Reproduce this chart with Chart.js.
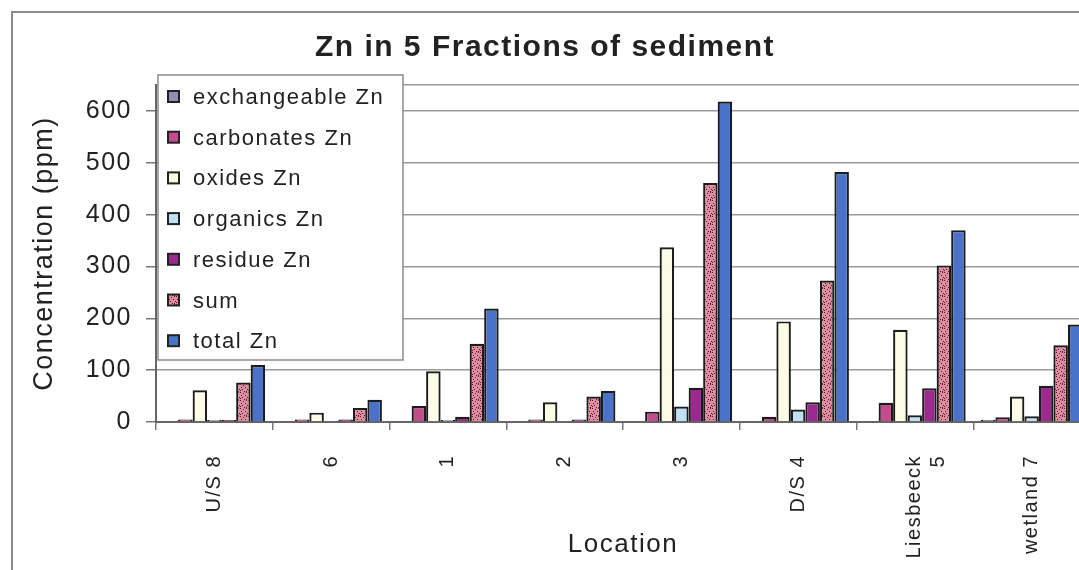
<!DOCTYPE html>
<html>
<head>
<meta charset="utf-8">
<title>Zn in 5 Fractions of sediment</title>
<script src="https://cdn.jsdelivr.net/npm/chart.js@4.4.1/dist/chart.umd.min.js"></script>
<style>
  html, body { margin: 0; padding: 0; background: #fff; overflow: hidden; }
  #wrap { width: 1079px; height: 570px; overflow: hidden; }
  #zn-chart { width: 1090px; height: 570px; }
</style>
</head>
<body>
<div id="wrap"><canvas id="zn-chart" width="1090" height="570"></canvas></div>
<script>
// sampling locations
const locations = ['U/S 8', '6', '1', '2', '3', 'D/S 4', ['Liesbeeck', '5'], 'wetland 7'];

// Zn per fraction (ppm)
const exchangeableZn = [0, 0, 0, 0, 0, 0, 0, 4];
const carbonatesZn   = [5, 5, 31, 5, 20, 10, 37, 9];
const oxidesZn       = [61, 18, 98, 38, 337, 194, 178, 49];
const organicsZn     = [4, 2, 4, 2, 30, 24, 13, 11];
const residueZn      = [4, 5, 10, 5, 66, 38, 65, 70];
const sumZn          = [76, 27, 151, 49, 461, 273, 302, 148];
const totalZn        = [110, 43, 219, 60, 618, 482, 370, 188];

const yTicks = [0, 100, 200, 300, 400, 500, 600];

// speckled pink fill for the "sum" bars
function speckle() {
    const c = document.createElement('canvas');
    c.width = 8; c.height = 8;
    const g = c.getContext('2d');
    g.fillStyle = '#e58b9f';
    g.fillRect(0, 0, 8, 8);
    g.fillStyle = '#3a2430';
    [[0,0],[3,1],[6,0],[1,3],[5,3],[2,5],[7,5],[0,6],[4,7],[6,7]].forEach(p => g.fillRect(p[0], p[1], 1, 1));
    return g.createPattern(c, 'repeat');
}

Chart.defaults.font.family = "'Liberation Sans', Arial, sans-serif";
Chart.defaults.color = '#222';

// Excel-ish text looks a bit wide, add some spacing
const spacing = {
    id: 'spacing',
    beforeUpdate(chart) { chart.ctx.letterSpacing = '1.5px'; },
    beforeDraw(chart) { chart.ctx.letterSpacing = '1.5px'; }
};

// white background and the grey chart frame
const frame = {
    id: 'frame',
    beforeDraw(chart) {
        const ctx = chart.ctx;
        ctx.save();
        ctx.fillStyle = '#fff';
        ctx.fillRect(0, 0, chart.width, chart.height);
        ctx.strokeStyle = '#8c8c8c';
        ctx.lineWidth = 2;
        ctx.beginPath();
        ctx.moveTo(12, chart.height);
        ctx.lineTo(12, 12);
        ctx.lineTo(chart.width, 12);
        ctx.stroke();
        ctx.restore();
    }
};

// legend box sitting inside the plot, top left
const boxLegend = {
    id: 'boxLegend',
    afterDatasetsDraw(chart) {
        const ctx = chart.ctx;
        const x = 158, y = 75, w = 245, h = 285;
        ctx.save();
        ctx.fillStyle = '#fff';
        ctx.fillRect(x, y, w, h);
        ctx.strokeStyle = '#8c8c8c';
        ctx.lineWidth = 1.5;
        ctx.strokeRect(x, y, w, h);
        ctx.font = "22px 'Liberation Sans', Arial, sans-serif";
        ctx.textBaseline = 'middle';
        ctx.textAlign = 'left';
        chart.data.datasets.forEach((ds, i) => {
            const cy = y + 22 + i * 40.7;
            ctx.fillStyle = ds.backgroundColor;
            ctx.fillRect(x + 10, cy - 6, 11, 11);
            ctx.strokeStyle = '#222';
            ctx.lineWidth = 2;
            ctx.strokeRect(x + 10, cy - 6, 11, 11);
            ctx.fillStyle = '#222';
            ctx.fillText(ds.label, x + 35, cy + 1);
        });
        ctx.restore();
    }
};

const series = [
    { label: 'exchangeable Zn', data: exchangeableZn, color: '#8e8fb5' },
    { label: 'carbonates Zn',   data: carbonatesZn,   color: '#c24c8c' },
    { label: 'oxides Zn',       data: oxidesZn,       color: '#fbfbe6' },
    { label: 'organics Zn',     data: organicsZn,     color: '#bfe1f3' },
    { label: 'residue Zn',      data: residueZn,      color: '#9c2a8e' },
    { label: 'sum',             data: sumZn,          color: speckle() },
    { label: 'total Zn',        data: totalZn,        color: '#4a72c8' }
];

new Chart(document.getElementById('zn-chart'), {
    type: 'bar',
    data: {
        labels: locations,
        datasets: series.map(s => ({
            label: s.label,
            data: s.data,
            backgroundColor: s.color,
            borderColor: '#1c1c1c',
            borderWidth: 2.2,
            categoryPercentage: 0.87,
            barPercentage: 1.0
        }))
    },
    options: {
        responsive: false,
        animation: false,
        devicePixelRatio: 1,
        layout: { padding: 0 },
        scales: {
            x: {
                ticks: {
                    color: '#222',
                    font: { size: 20 },
                    minRotation: 90,
                    maxRotation: 90,
                    autoSkip: false,
                    padding: 25
                },
                grid: { drawOnChartArea: false, tickLength: 8, color: '#777', lineWidth: 1.5 },
                border: { color: '#666', width: 2 },
                title: {
                    display: true,
                    text: 'Location',
                    color: '#222',
                    font: { size: 26 },
                    padding: { top: 0, bottom: 10 }
                },
                afterFit(scale) { scale.height = 148; }
            },
            y: {
                min: 0,
                max: 650,
                afterBuildTicks(scale) {
                    scale.ticks = yTicks.map(v => ({ value: v })).concat([{ value: 650 }]);
                },
                ticks: {
                    color: '#222',
                    font: { size: 25 },
                    padding: 14,
                    callback: v => yTicks.includes(v) ? v : ''
                },
                grid: {
                    color: '#9a9a9a',
                    lineWidth: 1.5,
                    tickLength: 10,
                    tickColor: c => (c.tick && yTicks.includes(c.tick.value)) ? '#777' : 'rgba(0,0,0,0)'
                },
                border: { color: '#666', width: 2 },
                title: {
                    display: true,
                    text: 'Concentration (ppm)',
                    color: '#222',
                    font: { size: 27 },
                    padding: { top: 28, bottom: 0 }
                },
                afterFit(scale) { scale.width = 156; }
            }
        },
        plugins: {
            title: {
                display: true,
                text: 'Zn in 5 Fractions of sediment',
                color: '#222',
                font: { size: 30, weight: 'bold' },
                padding: { top: 30, bottom: 19 }
            },
            legend: { display: false },
            tooltip: { enabled: false }
        }
    },
    plugins: [spacing, frame, boxLegend]
});
</script>
</body>
</html>
